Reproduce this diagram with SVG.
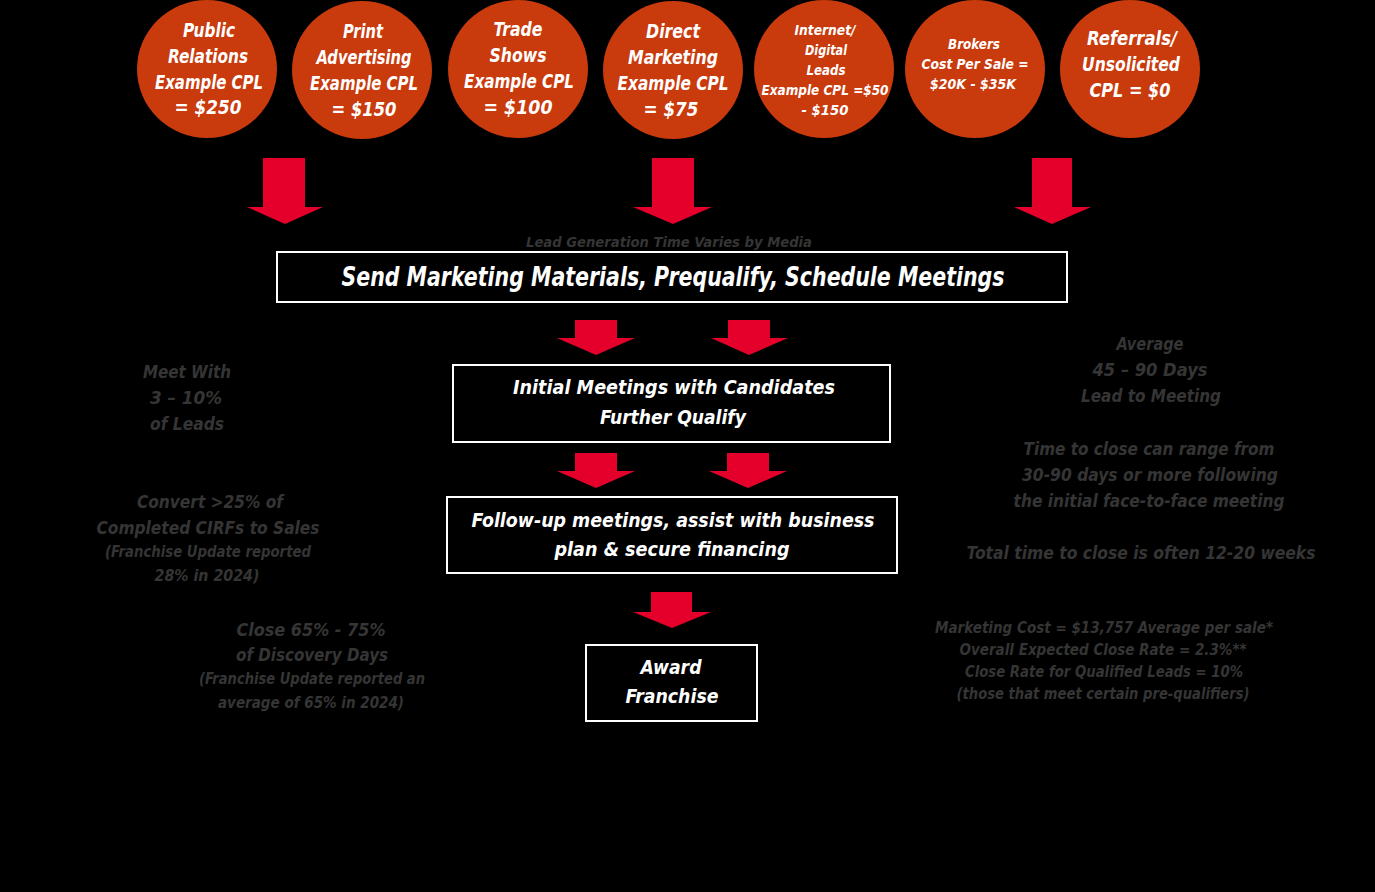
<svg xmlns="http://www.w3.org/2000/svg" width="1375" height="892" viewBox="0 0 1375 892">
<style>
text{font-family:"Liberation Sans Narrow","DejaVu Sans Condensed","Liberation Sans",sans-serif;font-weight:bold;font-style:italic;text-anchor:middle}
.w{fill:#ffffff}
.g{fill:#353535}
.c{fill:#c93a0c}
.box{fill:#000;stroke:#fff;stroke-width:2}
.arr{fill:#e4002b}
.f20{font-size:20px}
.f14{font-size:14px}
.f18{font-size:18px}
.f15{font-size:15px}
</style>
<rect x="0" y="0" width="1375" height="892" fill="#000"/>
<g id="n-pr"><ellipse class="c" cx="207" cy="69" rx="70" ry="69"/>
<text class="w f20" x="209" y="37" textLength="52" lengthAdjust="spacingAndGlyphs">Public</text>
<text class="w f20" x="208" y="63" textLength="80" lengthAdjust="spacingAndGlyphs">Relations</text>
<text class="w f20" x="209" y="89" textLength="108" lengthAdjust="spacingAndGlyphs">Example CPL</text>
<text class="w f20" x="208" y="114" textLength="67" lengthAdjust="spacingAndGlyphs">= $250</text></g>
<g id="n-print"><ellipse class="c" cx="362" cy="70" rx="70" ry="69"/>
<text class="w f20" x="363" y="38" textLength="40" lengthAdjust="spacingAndGlyphs">Print</text>
<text class="w f20" x="364" y="64" textLength="95" lengthAdjust="spacingAndGlyphs">Advertising</text>
<text class="w f20" x="364" y="90" textLength="108" lengthAdjust="spacingAndGlyphs">Example CPL</text>
<text class="w f20" x="364" y="116" textLength="65" lengthAdjust="spacingAndGlyphs">= $150</text></g>
<g id="n-trade"><ellipse class="c" cx="518" cy="69" rx="70" ry="69"/>
<text class="w f20" x="518" y="36" textLength="49" lengthAdjust="spacingAndGlyphs">Trade</text>
<text class="w f20" x="518" y="62" textLength="57" lengthAdjust="spacingAndGlyphs">Shows</text>
<text class="w f20" x="519" y="88" textLength="110" lengthAdjust="spacingAndGlyphs">Example CPL</text>
<text class="w f20" x="518" y="114" textLength="69" lengthAdjust="spacingAndGlyphs">= $100</text></g>
<g id="n-direct"><ellipse class="c" cx="673" cy="70" rx="70" ry="69"/>
<text class="w f20" x="673" y="38" textLength="54" lengthAdjust="spacingAndGlyphs">Direct</text>
<text class="w f20" x="673" y="64" textLength="90" lengthAdjust="spacingAndGlyphs">Marketing</text>
<text class="w f20" x="673" y="90" textLength="111" lengthAdjust="spacingAndGlyphs">Example CPL</text>
<text class="w f20" x="671" y="116" textLength="55" lengthAdjust="spacingAndGlyphs">= $75</text></g>
<g id="n-internet"><ellipse class="c" cx="824" cy="69" rx="70" ry="69"/>
<text class="w f14" x="825" y="35" textLength="61" lengthAdjust="spacingAndGlyphs">Internet/</text>
<text class="w f14" x="826" y="55" textLength="42" lengthAdjust="spacingAndGlyphs">Digital</text>
<text class="w f14" x="826" y="75" textLength="39" lengthAdjust="spacingAndGlyphs">Leads</text>
<text class="w f14" x="825" y="95" textLength="127" lengthAdjust="spacingAndGlyphs">Example CPL =$50</text>
<text class="w f14" x="825" y="115" textLength="47" lengthAdjust="spacingAndGlyphs">- $150</text></g>
<g id="n-brokers"><ellipse class="c" cx="975" cy="69" rx="70" ry="69"/>
<text class="w f14" x="974" y="49" textLength="52" lengthAdjust="spacingAndGlyphs">Brokers</text>
<text class="w f14" x="975" y="69" textLength="107" lengthAdjust="spacingAndGlyphs">Cost Per Sale =</text>
<text class="w f14" x="973" y="89" textLength="86" lengthAdjust="spacingAndGlyphs">$20K - $35K</text></g>
<g id="n-referrals"><ellipse class="c" cx="1130" cy="69" rx="70" ry="69"/>
<text class="w f20" x="1132" y="45" textLength="90" lengthAdjust="spacingAndGlyphs">Referrals/</text>
<text class="w f20" x="1131" y="71" textLength="98" lengthAdjust="spacingAndGlyphs">Unsolicited</text>
<text class="w f20" x="1130" y="97" textLength="81" lengthAdjust="spacingAndGlyphs">CPL = $0</text></g>

<g id="connectors">
<polygon class="arr" points="263,158 305,158 305,207 323,207 285,224 247,207 263,207"/>
<polygon class="arr" points="652,158 694,158 694,207 712,207 673,224 633,207 652,207"/>
<polygon class="arr" points="1032,158 1072,158 1072,207 1091,207 1052,224 1014,207 1032,207"/>
<polygon class="arr" points="575,320 617,320 617,338 635,338 596,355 557,338 575,338"/>
<polygon class="arr" points="728,320 770,320 770,338 788,338 749,355 711,338 728,338"/>
<polygon class="arr" points="575,453 617,453 617,471 635,471 596,488 557,471 575,471"/>
<polygon class="arr" points="727,453 769,453 769,471 787,471 748,488 709,471 727,471"/>
<polygon class="arr" points="651,592 692,592 692,612 711,612 672,628 633,612 651,612"/>
</g>

<text class="g f14" x="669" y="247" textLength="286" lengthAdjust="spacingAndGlyphs">Lead Generation Time Varies by Media</text>

<g id="n-send"><rect class="box" x="277" y="252" width="790" height="50"/>
<text class="w" style="font-size:26px" x="673" y="286" textLength="663" lengthAdjust="spacingAndGlyphs">Send Marketing Materials, Prequalify, Schedule Meetings</text></g>
<g id="n-initial"><rect class="box" x="453" y="365" width="437" height="77"/>
<text class="w f20" x="674" y="394" textLength="322" lengthAdjust="spacingAndGlyphs">Initial Meetings with Candidates</text>
<text class="w f20" x="673" y="424" textLength="146" lengthAdjust="spacingAndGlyphs">Further Qualify</text></g>
<g id="n-follow"><rect class="box" x="447" y="497" width="450" height="76"/>
<text class="w f20" x="673" y="527" textLength="403" lengthAdjust="spacingAndGlyphs">Follow-up meetings, assist with business</text>
<text class="w f20" x="672" y="556" textLength="235" lengthAdjust="spacingAndGlyphs">plan &amp; secure financing</text></g>
<g id="n-award"><rect class="box" x="586" y="645" width="171" height="76"/>
<text class="w f20" x="671" y="674" textLength="61" lengthAdjust="spacingAndGlyphs">Award</text>
<text class="w f20" x="672" y="703" textLength="93" lengthAdjust="spacingAndGlyphs">Franchise</text></g>

<g id="notes-left">
<text class="g f18" x="187" y="378" textLength="88" lengthAdjust="spacingAndGlyphs">Meet With</text>
<text class="g f18" x="186" y="404" textLength="72" lengthAdjust="spacingAndGlyphs">3 – 10%</text>
<text class="g f18" x="187" y="430" textLength="74" lengthAdjust="spacingAndGlyphs">of Leads</text>
<text class="g f18" x="210" y="508" textLength="146" lengthAdjust="spacingAndGlyphs">Convert &gt;25% of</text>
<text class="g f18" x="208" y="534" textLength="223" lengthAdjust="spacingAndGlyphs">Completed CIRFs to Sales</text>
<text class="g f15" x="208" y="557" textLength="206" lengthAdjust="spacingAndGlyphs">(Franchise Update reported</text>
<text class="g f15" x="207" y="581" textLength="105" lengthAdjust="spacingAndGlyphs">28% in 2024)</text>
<text class="g f18" x="311" y="636" textLength="149" lengthAdjust="spacingAndGlyphs">Close 65% - 75%</text>
<text class="g f18" x="312" y="661" textLength="152" lengthAdjust="spacingAndGlyphs">of Discovery Days</text>
<text class="g f15" x="312" y="684" textLength="226" lengthAdjust="spacingAndGlyphs">(Franchise Update reported an</text>
<text class="g f15" x="311" y="708" textLength="186" lengthAdjust="spacingAndGlyphs">average of 65% in 2024)</text>
</g>
<g id="notes-right">
<text class="g f18" x="1150" y="350" textLength="67" lengthAdjust="spacingAndGlyphs">Average</text>
<text class="g f18" x="1150" y="376" textLength="115" lengthAdjust="spacingAndGlyphs">45 – 90 Days</text>
<text class="g f18" x="1151" y="402" textLength="140" lengthAdjust="spacingAndGlyphs">Lead to Meeting</text>
<text class="g f18" x="1149" y="455" textLength="251" lengthAdjust="spacingAndGlyphs">Time to close can range from</text>
<text class="g f18" x="1150" y="481" textLength="256" lengthAdjust="spacingAndGlyphs">30-90 days or more following</text>
<text class="g f18" x="1149" y="507" textLength="271" lengthAdjust="spacingAndGlyphs">the initial  face-to-face meeting</text>
<text class="g f18" x="1141" y="559" textLength="349" lengthAdjust="spacingAndGlyphs">Total time to close is often 12-20 weeks</text>
<text class="g f15" x="1104" y="633" textLength="338" lengthAdjust="spacingAndGlyphs">Marketing Cost = $13,757 Average per sale*</text>
<text class="g f15" x="1103" y="655" textLength="287" lengthAdjust="spacingAndGlyphs">Overall Expected Close Rate = 2.3%**</text>
<text class="g f15" x="1104" y="677" textLength="278" lengthAdjust="spacingAndGlyphs">Close Rate for Qualified Leads = 10%</text>
<text class="g f15" x="1103" y="699" textLength="293" lengthAdjust="spacingAndGlyphs">(those that meet certain pre-qualifiers)</text>
</g>
</svg>
